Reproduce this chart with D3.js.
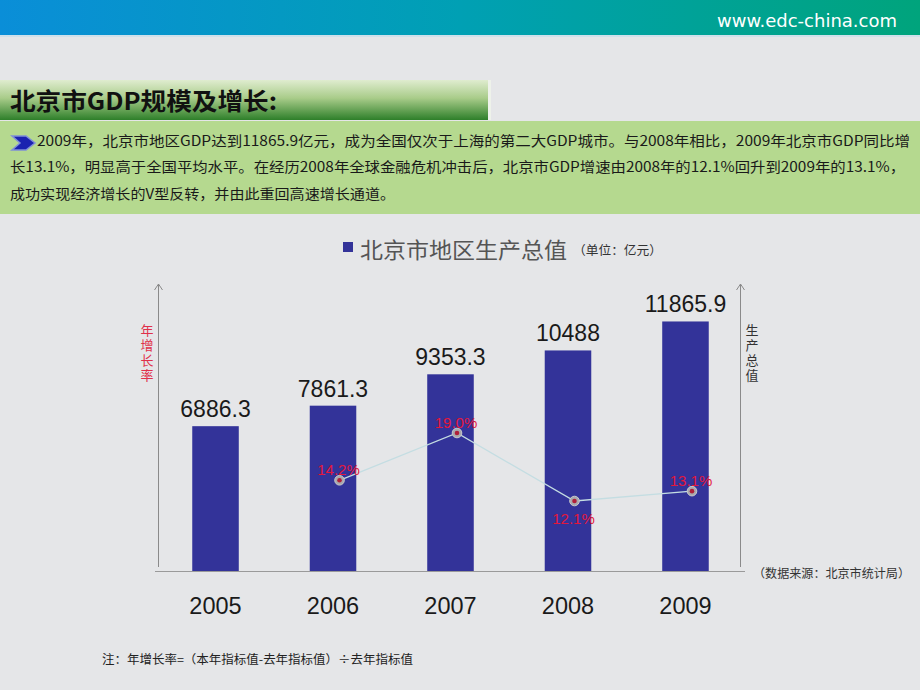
<!DOCTYPE html>
<html>
<head>
<meta charset="utf-8">
<script src="https://cdn.jsdelivr.net/npm/d3@7"></script>
<style>
  html, body { margin: 0; padding: 0; background: #e5e6e8; }
  svg { display: block; }
</style>
</head>
<body>
<svg id="chart" width="920" height="690"></svg>
<script>
// ---- data ----
const years = ["2005", "2006", "2007", "2008", "2009"];
const gdpValues = [6886.3, 7861.3, 9353.3, 10488, 11865.9];
const gdpLabels = ["6886.3", "7861.3", "9353.3", "10488", "11865.9"];
const growthYears = ["2006", "2007", "2008", "2009"];
const growthValues = [14.2, 19.0, 12.1, 13.1];
const growthLabels = ["14.2%", "19.0%", "12.1%", "13.1%"];
const growthLabelBelow = [false, false, true, false];

const pageTitle = "北京市GDP规模及增长:";
const introLines = [
  "2009年，北京市地区GDP达到11865.9亿元，成为全国仅次于上海的第二大GDP城市。与2008年相比，2009年北京市GDP同比增",
  "长13.1%，明显高于全国平均水平。在经历2008年全球金融危机冲击后，北京市GDP增速由2008年的12.1%回升到2009年的13.1%，",
  "成功实现经济增长的V型反转，并由此重回高速增长通道。"
];
const legendText = "北京市地区生产总值";
const unitText = "（单位：亿元）";
const leftAxisTitle = "年增长率";
const rightAxisTitle = "生产总值";
const sourceText = "（数据来源：北京市统计局）";
const noteText = "注：年增长率=（本年指标值-去年指标值）÷去年指标值";
const siteText = "www.edc-china.com";

// ---- setup ----
const svg = d3.select("#chart");
const CJK = "'Noto Sans CJK SC', 'Noto Sans', sans-serif";
const LAT = "'Liberation Sans', Arial, 'Noto Sans CJK SC', sans-serif";

const defs = svg.append("defs");
const hdr = defs.append("linearGradient").attr("id", "hdr").attr("x1", 0).attr("x2", 1).attr("y1", 0).attr("y2", 0);
hdr.append("stop").attr("offset", "0%").attr("stop-color", "#0a8ed8");
hdr.append("stop").attr("offset", "50%").attr("stop-color", "#00a0b4");
hdr.append("stop").attr("offset", "100%").attr("stop-color", "#00a47c");
const tg = defs.append("linearGradient").attr("id", "tg").attr("x1", 0).attr("x2", 0).attr("y1", 0).attr("y2", 1);
tg.append("stop").attr("offset", "0%").attr("stop-color", "#dfeccf");
tg.append("stop").attr("offset", "45%").attr("stop-color", "#a9cc8a");
tg.append("stop").attr("offset", "100%").attr("stop-color", "#2e7f2a");

// header band
svg.append("rect").attr("x", 0).attr("y", 0).attr("width", 920).attr("height", 35).attr("fill", "url(#hdr)");
svg.append("rect").attr("x", 0).attr("y", 35).attr("width", 920).attr("height", 2).attr("fill", "#cfe0ea");
svg.append("text").attr("x", 897).attr("y", 27).attr("text-anchor", "end")
  .attr("font-family", "'DejaVu Sans', Verdana, sans-serif").attr("font-size", 17).attr("fill", "#ffffff")
  .attr("textLength", 180).attr("lengthAdjust", "spacingAndGlyphs").text(siteText);

// title bar
svg.append("rect").attr("x", 0).attr("y", 80).attr("width", 488).attr("height", 40).attr("fill", "url(#tg)");
svg.append("rect").attr("x", 488).attr("y", 80).attr("width", 3).attr("height", 40).attr("fill", "#eef2ea");
svg.append("text").attr("x", 10).attr("y", 110)
  .attr("font-family", CJK).attr("font-weight", "bold").attr("font-size", 24).attr("fill", "#111")
  .attr("textLength", 267).attr("lengthAdjust", "spacingAndGlyphs").text(pageTitle);

// intro box
svg.append("rect").attr("x", 0).attr("y", 121).attr("width", 920).attr("height", 93).attr("fill", "#b5d98f");
svg.append("path").attr("d", "M12,136 L26,136 L35,143 L26,150 L12,150 L20,143 Z")
  .attr("fill", "#1a22b0").attr("stroke", "#7f8fd8").attr("stroke-width", 1.5);
const lineX = [37, 10, 10];
const lineLen = [873, 895, 385];
const lineY = [146, 172, 199];
svg.append("g").selectAll("text").data(introLines).join("text")
  .attr("x", (d, i) => lineX[i]).attr("y", (d, i) => lineY[i])
  .attr("font-family", CJK).attr("font-size", 14).attr("fill", "#1a1a1a")
  .attr("textLength", (d, i) => lineLen[i]).attr("lengthAdjust", "spacingAndGlyphs")
  .text(d => d);

// ---- chart ----
const baseY = 571;
const x = d3.scaleBand().domain(years).range([157, 744]).paddingInner(0.604).paddingOuter(0.3);
const y = d3.scaleLinear().domain([0, 13600]).range([baseY, 285]);
const yg = d3.scaleLinear().domain([12, 19]).range([502, 433]);
const ptOffset = 6.5;

// legend
svg.append("rect").attr("x", 343).attr("y", 242).attr("width", 10).attr("height", 10).attr("fill", "#333399");
svg.append("text").attr("x", 360).attr("y", 258)
  .attr("font-family", CJK).attr("font-size", 22).attr("fill", "#555")
  .attr("textLength", 207).attr("lengthAdjust", "spacingAndGlyphs").text(legendText);
svg.append("text").attr("x", 573).attr("y", 255)
  .attr("font-family", CJK).attr("font-size", 12.5).attr("fill", "#333")
  .attr("textLength", 89).attr("lengthAdjust", "spacingAndGlyphs").text(unitText);

// axes
svg.append("line").attr("x1", 155).attr("x2", 745).attr("y1", baseY + 0.5).attr("y2", baseY + 0.5)
  .attr("stroke", "#9a9a9a").attr("stroke-width", 1);
[158.5, 740.5].forEach(ax => {
  svg.append("line").attr("x1", ax).attr("x2", ax).attr("y1", 567).attr("y2", 284)
    .attr("stroke", "#8a8a8a").attr("stroke-width", 1);
  svg.append("path").attr("d", `M${ax - 4},${290} L${ax},${284} L${ax + 4},${290}`)
    .attr("fill", "none").attr("stroke", "#8a8a8a").attr("stroke-width", 1);
});

// vertical axis titles (single vertical text each)
[[147, leftAxisTitle, "#e0304a"], [752, rightAxisTitle, "#333"]].forEach(([tx, t, c]) => {
  svg.append("text").attr("x", tx).attr("y", 324)
    .style("writing-mode", "vertical-rl").attr("letter-spacing", 2)
    .attr("font-family", CJK).attr("font-size", 13).attr("fill", c).text(t);
});

// bars
svg.append("g").selectAll("rect").data(gdpValues).join("rect")
  .attr("x", (d, i) => x(years[i])).attr("width", x.bandwidth())
  .attr("y", d => y(d)).attr("height", d => baseY - y(d))
  .attr("fill", "#333399");

// bar value labels
svg.append("g").selectAll("text").data(gdpValues).join("text")
  .attr("x", (d, i) => x(years[i]) + x.bandwidth() / 2).attr("y", d => y(d) - 9)
  .attr("text-anchor", "middle").attr("font-family", LAT).attr("font-size", 23).attr("fill", "#1a1a1a")
  .text((d, i) => gdpLabels[i]);

// year axis labels
svg.append("g").selectAll("text").data(years).join("text")
  .attr("x", d => x(d) + x.bandwidth() / 2).attr("y", 614)
  .attr("text-anchor", "middle").attr("font-family", LAT).attr("font-size", 23.5).attr("fill", "#1a1a1a")
  .text(d => d);

// growth line
const gx = (d, i) => x(growthYears[i]) + x.bandwidth() / 2 + ptOffset;
const line = d3.line().x((d, i) => gx(d, i)).y(d => yg(d));
svg.append("path").datum(growthValues).attr("d", line)
  .attr("fill", "none").attr("stroke", "#c4dde2").attr("stroke-width", 1.3);
svg.append("g").selectAll("circle").data(growthValues).join("circle")
  .attr("cx", gx).attr("cy", d => yg(d)).attr("r", 4.8)
  .attr("fill", "#a9a9ad").attr("stroke", "#c9c9cc").attr("stroke-width", 1);
svg.append("g").selectAll("circle").data(growthValues).join("circle")
  .attr("cx", gx).attr("cy", d => yg(d)).attr("r", 2.3).attr("fill", "#b0203a");
svg.append("g").selectAll("text").data(growthValues).join("text")
  .attr("x", (d, i) => gx(d, i) - 1)
  .attr("y", (d, i) => growthLabelBelow[i] ? yg(d) + 23 : yg(d) - 5)
  .attr("text-anchor", "middle").attr("font-family", LAT).attr("font-size", 15).attr("fill", "#e3173c")
  .text((d, i) => growthLabels[i]);

// source & note
svg.append("text").attr("x", 753).attr("y", 578)
  .attr("font-family", CJK).attr("font-size", 12).attr("fill", "#333")
  .attr("textLength", 157).attr("lengthAdjust", "spacingAndGlyphs").text(sourceText);
svg.append("text").attr("x", 102).attr("y", 664)
  .attr("font-family", CJK).attr("font-size", 12).attr("fill", "#222")
  .attr("textLength", 311).attr("lengthAdjust", "spacingAndGlyphs").text(noteText);
</script>
</body>
</html>
